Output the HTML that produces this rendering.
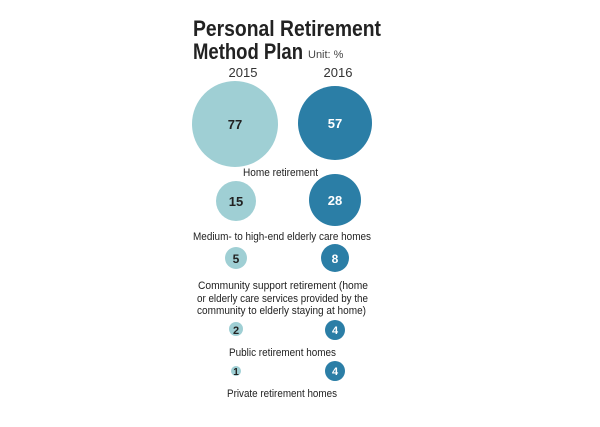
<!DOCTYPE html>
<html><head><style>
body{margin:0;width:600px;height:422px;background:#fff;overflow:hidden;font-family:"Liberation Sans",sans-serif}
</style></head><body>
<svg width="600" height="422" xmlns="http://www.w3.org/2000/svg" font-family="Liberation Sans, sans-serif">
<text x="193" y="36" font-size="22" font-weight="bold" fill="#222" textLength="188" lengthAdjust="spacingAndGlyphs">Personal Retirement</text>
<text x="193" y="59" font-size="22" font-weight="bold" fill="#222" textLength="110" lengthAdjust="spacingAndGlyphs">Method Plan</text>
<text x="308" y="58" font-size="11" fill="#444">Unit: %</text>
<text x="243" y="77" font-size="13" fill="#333" text-anchor="middle">2015</text>
<text x="338" y="77" font-size="13" fill="#333" text-anchor="middle">2016</text>
<g fill="#9fcfd4">
<circle cx="235" cy="124" r="43"/><circle cx="236" cy="201" r="20"/><circle cx="236" cy="258" r="11"/><circle cx="236" cy="329" r="7"/><circle cx="236" cy="371" r="5"/>
</g>
<g fill="#2b7ea6">
<circle cx="335" cy="123" r="37"/><circle cx="335" cy="200" r="26"/><circle cx="335" cy="258" r="14"/><circle cx="335" cy="330" r="10"/><circle cx="335" cy="371" r="10"/>
</g>
<g font-size="13" font-weight="bold" text-anchor="middle">
<text x="235" y="129" fill="#222">77</text><text x="335" y="128" fill="#fff">57</text>
<text x="236" y="206" fill="#222">15</text><text x="335" y="205" fill="#fff">28</text>
<text x="236" y="263" fill="#222" font-size="12">5</text><text x="335" y="263" fill="#fff" font-size="12">8</text>
<text x="236" y="334" fill="#222" font-size="11">2</text><text x="335" y="334" fill="#fff" font-size="11">4</text>
<text x="236" y="375" fill="#222" font-size="10">1</text><text x="335" y="375" fill="#fff" font-size="11">4</text>
</g>
<g font-size="11" fill="#222" lengthAdjust="spacingAndGlyphs">
<text x="243" y="176" textLength="75" lengthAdjust="spacingAndGlyphs">Home retirement</text>
<text x="193" y="240" textLength="178" lengthAdjust="spacingAndGlyphs">Medium- to high-end elderly care homes</text>
<text x="198" y="289" textLength="170" lengthAdjust="spacingAndGlyphs">Community support retirement (home</text>
<text x="197" y="302" textLength="171" lengthAdjust="spacingAndGlyphs">or elderly care services provided by the</text>
<text x="197" y="314" textLength="169" lengthAdjust="spacingAndGlyphs">community to elderly staying at home)</text>
<text x="229" y="356" textLength="107" lengthAdjust="spacingAndGlyphs">Public retirement homes</text>
<text x="227" y="397" textLength="110" lengthAdjust="spacingAndGlyphs">Private retirement homes</text>
</g>
</svg>
</body></html>
